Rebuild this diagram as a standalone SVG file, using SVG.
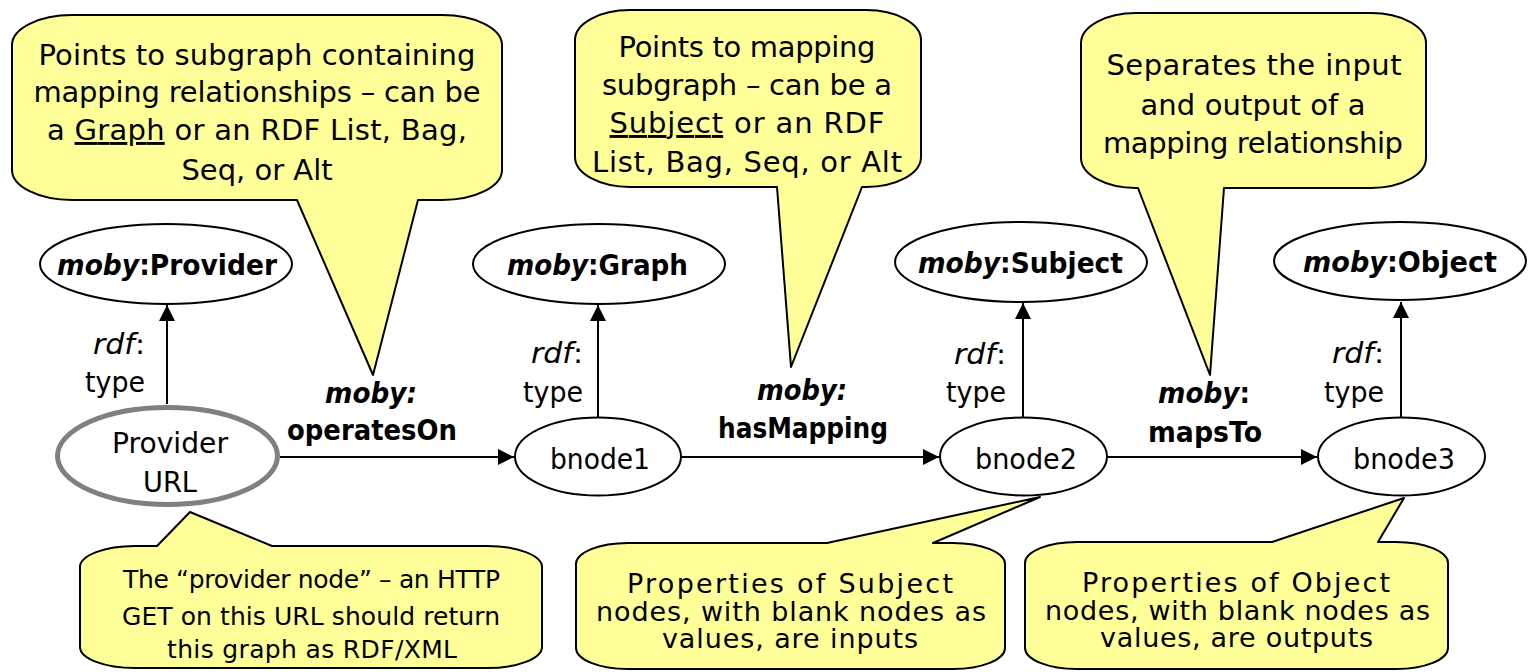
<svg xmlns="http://www.w3.org/2000/svg" width="1531" height="672" viewBox="0 0 1531 672">
<style>
.callout{fill:#FFFF99;stroke:#000;stroke-width:2;stroke-linejoin:round}
.ct{font-family:"DejaVu Sans","Liberation Sans",sans-serif;font-size:29px;fill:#000;text-anchor:middle}
.ct2{font-family:"DejaVu Sans","Liberation Sans",sans-serif;font-size:25px;fill:#000;text-anchor:middle}
.ct3{font-family:"DejaVu Sans","Liberation Sans",sans-serif;font-size:27px;fill:#000;text-anchor:middle}
.node{fill:#fff;stroke:#000;stroke-width:2}
.prov{fill:#fff;stroke:#808080;stroke-width:5}
.nt{font-family:"DejaVu Sans","Liberation Sans",sans-serif;font-size:28px;fill:#000;text-anchor:middle}
.b{font-weight:bold}
.i{font-style:italic}
.lab{font-family:"DejaVu Sans","Liberation Sans",sans-serif;font-size:28px;fill:#000}
.edge{stroke:#000;stroke-width:2;fill:none}
</style>
<defs>
<marker id="arr" markerUnits="userSpaceOnUse" markerWidth="17" markerHeight="16" refX="16" refY="8" orient="auto">
<path d="M0,0 L16,8 L0,16 Z" fill="#000"/>
</marker>
</defs>

<g id="connectors">
<line class="edge" x1="167" y1="404" x2="167" y2="305" marker-end="url(#arr)"/>
<line class="edge" x1="598" y1="417" x2="598" y2="305" marker-end="url(#arr)"/>
<line class="edge" x1="1023" y1="417" x2="1023" y2="303" marker-end="url(#arr)"/>
<line class="edge" x1="1401" y1="417" x2="1401" y2="302" marker-end="url(#arr)"/>
<line class="edge" x1="280" y1="457" x2="514" y2="457" marker-end="url(#arr)"/>
<line class="edge" x1="682" y1="457" x2="939" y2="457" marker-end="url(#arr)"/>
<line class="edge" x1="1108" y1="457" x2="1317" y2="457" marker-end="url(#arr)"/>
<text class="lab" text-anchor="end" x="145" y="354" textLength="52" lengthAdjust="spacingAndGlyphs"><tspan class="i">rdf</tspan>:</text>
<text class="lab" text-anchor="end" x="145" y="392" textLength="60" lengthAdjust="spacingAndGlyphs">type</text>
<text class="lab" text-anchor="end" x="583" y="363" textLength="52" lengthAdjust="spacingAndGlyphs"><tspan class="i">rdf</tspan>:</text>
<text class="lab" text-anchor="end" x="583" y="402" textLength="60" lengthAdjust="spacingAndGlyphs">type</text>
<text class="lab" text-anchor="end" x="1006" y="364" textLength="52" lengthAdjust="spacingAndGlyphs"><tspan class="i">rdf</tspan>:</text>
<text class="lab" text-anchor="end" x="1006" y="402" textLength="60" lengthAdjust="spacingAndGlyphs">type</text>
<text class="lab" text-anchor="end" x="1384" y="363" textLength="52" lengthAdjust="spacingAndGlyphs"><tspan class="i">rdf</tspan>:</text>
<text class="lab" text-anchor="end" x="1384" y="402" textLength="60" lengthAdjust="spacingAndGlyphs">type</text>
<text class="lab b i" text-anchor="middle" x="371" y="403" textLength="92" lengthAdjust="spacingAndGlyphs">moby:</text>
<text class="lab b" text-anchor="middle" x="372" y="440" textLength="170" lengthAdjust="spacingAndGlyphs">operatesOn</text>
<text class="lab b i" text-anchor="middle" x="802" y="400" textLength="90" lengthAdjust="spacingAndGlyphs">moby:</text>
<text class="lab b" text-anchor="middle" x="803" y="438" textLength="170" lengthAdjust="spacingAndGlyphs">hasMapping</text>
<text class="lab b" text-anchor="middle" x="1204" y="403" textLength="92" lengthAdjust="spacingAndGlyphs"><tspan class="i">moby</tspan>:</text>
<text class="lab b" text-anchor="middle" x="1205" y="442" textLength="114" lengthAdjust="spacingAndGlyphs">mapsTo</text>
</g>

<g id="provider_type">
<ellipse class="node" cx="166" cy="264" rx="126" ry="40"/>
<text class="nt b" x="167" y="275" textLength="220" lengthAdjust="spacingAndGlyphs"><tspan class="i">moby</tspan>:Provider</text>
</g>
<g id="graph_type">
<ellipse class="node" cx="599" cy="264" rx="126" ry="40"/>
<text class="nt b" x="597.5" y="275" textLength="181" lengthAdjust="spacingAndGlyphs"><tspan class="i">moby</tspan>:Graph</text>
</g>
<g id="subject_type">
<ellipse class="node" cx="1021" cy="262" rx="126" ry="40"/>
<text class="nt b" x="1020.5" y="273" textLength="205" lengthAdjust="spacingAndGlyphs"><tspan class="i">moby</tspan>:Subject</text>
</g>
<g id="object_type">
<ellipse class="node" cx="1400" cy="261" rx="126" ry="39"/>
<text class="nt b" x="1400" y="272" textLength="194" lengthAdjust="spacingAndGlyphs"><tspan class="i">moby</tspan>:Object</text>
</g>

<g id="provider_url">
<ellipse class="prov" cx="167.5" cy="456" rx="110" ry="48.5"/>
<text class="nt" x="170" y="453" textLength="116" lengthAdjust="spacingAndGlyphs">Provider</text>
<text class="nt" x="170" y="492" textLength="54" lengthAdjust="spacingAndGlyphs">URL</text>
</g>
<g id="bnode1">
<ellipse class="node" cx="598" cy="456.5" rx="83" ry="39"/>
<text class="nt" x="600" y="469" textLength="100" lengthAdjust="spacingAndGlyphs">bnode1</text>
</g>
<g id="bnode2">
<ellipse class="node" cx="1023.5" cy="456.5" rx="83.5" ry="39"/>
<text class="nt" x="1026" y="469" textLength="102" lengthAdjust="spacingAndGlyphs">bnode2</text>
</g>
<g id="bnode3">
<ellipse class="node" cx="1401.5" cy="456.5" rx="83.5" ry="39"/>
<text class="nt" x="1404" y="469" textLength="102" lengthAdjust="spacingAndGlyphs">bnode3</text>
</g>

<g id="callout_operatesOn">
<path class="callout" d="M72,15 H442 A60,30 0 0 1 502,45 V170 A60,30 0 0 1 442,200 H418 L373,375 L297,200 H72 A60,30 0 0 1 12,170 V45 A60,30 0 0 1 72,15 Z"/>
<text class="ct" x="257" y="65" textLength="437">Points to subgraph containing</text>
<text class="ct" x="257" y="102" textLength="447">mapping relationships – can be</text>
<text class="ct" x="257" y="140" textLength="420">a <tspan text-decoration="underline">Graph</tspan> or an RDF List, Bag,</text>
<text class="ct" x="257" y="180">Seq, or Alt</text>
</g>

<g id="callout_hasMapping">
<path class="callout" d="M630,10 H866 A55,30 0 0 1 921,40 V157 A55,30 0 0 1 866,187 H862 L791,367 L777,187 H630 A55,30 0 0 1 575,157 V40 A55,30 0 0 1 630,10 Z"/>
<text class="ct" x="747" y="57" textLength="257">Points to mapping</text>
<text class="ct" x="747" y="95" textLength="290">subgraph – can be a</text>
<text class="ct" x="747" y="133" textLength="275"><tspan text-decoration="underline">Subject</tspan> or an RDF</text>
<text class="ct" x="747" y="172" textLength="310">List, Bag, Seq, or Alt</text>
</g>

<g id="callout_mapsTo">
<path class="callout" d="M1136,13 H1371 A55,30 0 0 1 1426,43 V158 A55,30 0 0 1 1371,188 H1224 L1210,375 L1138,188 H1136 A55,30 0 0 1 1081,158 V43 A55,30 0 0 1 1136,13 Z"/>
<text class="ct" x="1254" y="75" textLength="295">Separates the input</text>
<text class="ct" x="1253" y="115" textLength="225">and output of a</text>
<text class="ct" x="1253" y="153" textLength="300">mapping relationship</text>
</g>

<g id="callout_provider">
<path class="callout" d="M135,546 H157 L190,512 L272,546 H487 A55,21 0 0 1 542,567 V647 A55,21 0 0 1 487,668 H135 A55,21 0 0 1 80,647 V567 A55,21 0 0 1 135,546 Z"/>
<text class="ct2" x="311.5" y="588" textLength="377">The “provider node” – an HTTP</text>
<text class="ct2" x="311" y="625" textLength="378">GET on this URL should return</text>
<text class="ct2" x="312" y="658" textLength="290">this graph as RDF/XML</text>
</g>

<g id="callout_subject">
<path class="callout" d="M628,543 H827 L1040,497 L933,543 H953 A52,21 0 0 1 1005,564 V648 A52,21 0 0 1 953,669 H628 A52,21 0 0 1 576,648 V564 A52,21 0 0 1 628,543 Z"/>
<text class="ct3" x="790" y="593" textLength="326">Properties of Subject</text>
<text class="ct3" x="791" y="621" textLength="390">nodes, with blank nodes as</text>
<text class="ct3" x="790" y="648" textLength="256">values, are inputs</text>
</g>

<g id="callout_object">
<path class="callout" d="M1077,542 H1272 L1404,498 L1378,542 H1396 A52,21 0 0 1 1448,563 V648 A52,21 0 0 1 1396,669 H1077 A52,21 0 0 1 1025,648 V563 A52,21 0 0 1 1077,542 Z"/>
<text class="ct3" x="1236" y="592" textLength="308">Properties of Object</text>
<text class="ct3" x="1237.5" y="620" textLength="385">nodes, with blank nodes as</text>
<text class="ct3" x="1236.5" y="647" textLength="273">values, are outputs</text>
</g>
</svg>
